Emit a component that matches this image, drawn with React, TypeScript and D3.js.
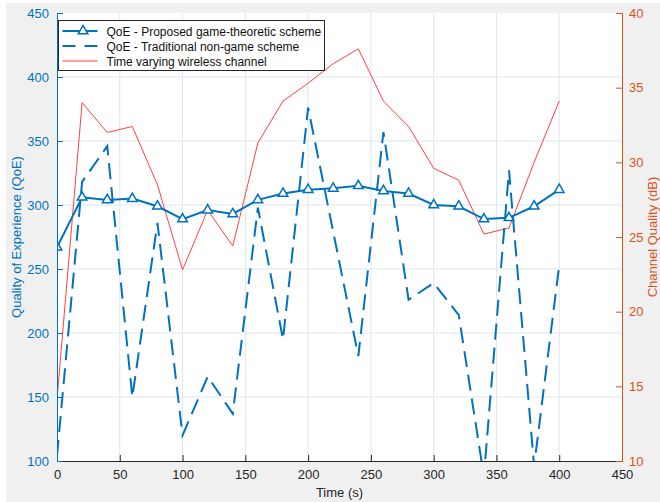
import { useEffect, useRef } from 'react'
import * as d3 from 'd3'

const times = [0, 20, 40, 60, 80, 100, 120, 140, 160, 180, 200, 220, 240, 260, 280, 300, 320, 340, 360, 380, 400]
const qoeProposed = [267, 306, 304, 305, 299, 289, 296, 293, 304, 309, 312, 313, 315, 311, 309, 300, 299, 289, 290, 299, 312]
const qoeTraditional = [104, 318, 346, 150, 286, 120, 166, 137, 298, 195, 376, 279, 182, 357, 226, 239, 214, 88, 327, 96, 253]
const channelDb = [14.1, 34.0, 32.0, 32.4, 28.5, 22.8, 26.8, 24.4, 31.3, 34.1, 35.3, 36.6, 37.6, 34.1, 32.4, 29.6, 28.8, 25.2, 25.6, 30.0, 34.1]

const xTicks = [0, 50, 100, 150, 200, 250, 300, 350, 400, 450]
const leftTicks = [100, 150, 200, 250, 300, 350, 400, 450]
const rightTicks = [10, 15, 20, 25, 30, 35, 40]
const legendLabels = [
  'QoE - Proposed game-theoretic scheme',
  'QoE - Traditional non-game scheme',
  'Time varying wireless channel',
]

const W = 660
const H = 502
const BLUE = '#0072BD'
const ORANGE = '#D95319'
const RED = '#ff4040'
const FONT = '"Liberation Sans", Arial, Helvetica, sans-serif'

export default function App() {
  const svgRef = useRef<SVGSVGElement>(null)

  useEffect(() => {
    if (!svgRef.current) return
    const svg = d3.select(svgRef.current)
    svg.selectAll('*').remove()

    const margin = { top: 13, right: 38, bottom: 41, left: 57 }
    const innerW = W - margin.left - margin.right
    const innerH = H - margin.top - margin.bottom

    // figure background
    svg.append('rect').attr('x', 6).attr('y', 3).attr('width', W - 6).attr('height', H - 3).attr('fill', '#f0f0f0')

    const g = svg.append('g').attr('transform', `translate(${margin.left},${margin.top})`)
    g.append('rect').attr('width', innerW).attr('height', innerH).attr('fill', '#fff')

    const x = d3.scaleLinear().domain([0, 450]).range([0, innerW])
    const yL = d3.scaleLinear().domain([100, 450]).range([innerH, 0])
    const yR = d3.scaleLinear().domain([10, 40]).range([innerH, 0])

    // grid
    g.append('g').selectAll('line').data(xTicks.slice(1, -1)).join('line')
      .attr('x1', d => x(d)).attr('x2', d => x(d)).attr('y1', 0).attr('y2', innerH)
      .attr('stroke', '#dfe6ee').attr('stroke-width', 1)
    g.append('g').selectAll('line').data(leftTicks.slice(1, -1)).join('line')
      .attr('x1', 0).attr('x2', innerW).attr('y1', d => yL(d)).attr('y2', d => yL(d))
      .attr('stroke', '#dfe6ee').attr('stroke-width', 1)

    const clipId = 'plot-clip'
    g.append('clipPath').attr('id', clipId).append('rect').attr('width', innerW).attr('height', innerH)
    const plot = g.append('g').attr('clip-path', `url(#${clipId})`)

    const lineL = d3.line<number>().x((_, i) => x(times[i])).y(d => yL(d))
    const lineR = d3.line<number>().x((_, i) => x(times[i])).y(d => yR(d))

    plot.append('path').datum(channelDb).attr('d', lineR)
      .attr('fill', 'none').attr('stroke', RED).attr('stroke-width', 1)

    plot.append('path').datum(qoeTraditional).attr('d', lineL)
      .attr('fill', 'none').attr('stroke', BLUE).attr('stroke-width', 2)
      .attr('stroke-dasharray', '16,8')

    plot.append('path').datum(qoeProposed).attr('d', lineL)
      .attr('fill', 'none').attr('stroke', BLUE).attr('stroke-width', 2)

    const tri = d3.symbol().type(d3.symbolTriangle).size(40)
    plot.selectAll('.marker').data(qoeProposed).join('path')
      .attr('class', 'marker')
      .attr('d', tri)
      .attr('transform', (d, i) => `translate(${x(times[i])},${yL(d)})`)
      .attr('fill', '#fff').attr('stroke', BLUE).attr('stroke-width', 1.5)

    // x axis
    const xAxis = g.append('g').attr('transform', `translate(0,${innerH})`)
      .call(d3.axisBottom(x).tickValues(xTicks).tickSize(-6).tickPadding(9))
    xAxis.select('.domain').attr('stroke', '#262626')
    xAxis.selectAll('.tick line').attr('stroke', '#262626')
    xAxis.selectAll('text').attr('fill', '#262626').attr('font-size', 13).attr('font-family', FONT)

    // left axis
    const left = g.append('g')
      .call(d3.axisLeft(yL).tickValues(leftTicks).tickSize(-6).tickPadding(8))
    left.select('.domain').attr('stroke', BLUE)
    left.selectAll('.tick line').attr('stroke', BLUE)
    left.selectAll('text').attr('fill', BLUE).attr('font-size', 13).attr('font-family', FONT)

    // right axis
    const right = g.append('g').attr('transform', `translate(${innerW},0)`)
      .call(d3.axisRight(yR).tickValues(rightTicks).tickSize(-6).tickPadding(7))
    right.select('.domain').attr('stroke', ORANGE)
    right.selectAll('.tick line').attr('stroke', ORANGE)
    right.selectAll('text').attr('fill', ORANGE).attr('font-size', 13).attr('font-family', FONT)

    // axis titles
    svg.append('text').attr('x', margin.left + innerW / 2).attr('y', 497)
      .attr('text-anchor', 'middle').attr('font-size', 13).attr('font-family', FONT)
      .attr('fill', '#262626').text('Time (s)')
    svg.append('text')
      .attr('transform', `translate(21,${margin.top + innerH / 2}) rotate(-90)`)
      .attr('text-anchor', 'middle').attr('font-size', 13).attr('font-family', FONT)
      .attr('fill', BLUE).text('Quality of Experience (QoE)')
    svg.append('text')
      .attr('transform', `translate(656.5,${margin.top + innerH / 2}) rotate(-90)`)
      .attr('text-anchor', 'middle').attr('font-size', 13).attr('font-family', FONT)
      .attr('fill', ORANGE).text('Channel Quality (dB)')

    // legend
    const legend = svg.append('g').attr('transform', 'translate(58.5,20.5)')
    legend.append('rect').attr('width', 266).attr('height', 50)
      .attr('fill', '#fff').attr('stroke', '#262626').attr('stroke-width', 1)
    legendLabels.forEach((label, i) => {
      const ly = 10.5 + i * 15
      const sample = legend.append('line').attr('x1', 4).attr('x2', 39).attr('y1', ly).attr('y2', ly)
        .attr('fill', 'none')
      if (i === 0) {
        sample.attr('stroke', BLUE).attr('stroke-width', 2)
        legend.append('path').attr('d', tri).attr('transform', `translate(24.5,${ly})`)
          .attr('fill', '#fff').attr('stroke', BLUE).attr('stroke-width', 1.5)
      } else if (i === 1) {
        sample.attr('stroke', BLUE).attr('stroke-width', 2).attr('stroke-dasharray', '13,9')
      } else {
        sample.attr('stroke', RED).attr('stroke-width', 1)
      }
      legend.append('text').attr('x', 48).attr('y', ly + 4.5)
        .attr('font-size', 12).attr('font-family', FONT).attr('fill', '#111')
        .text(label)
    })
  }, [])

  return (
    <div style={{ position: 'absolute', left: 0, top: 0 }}>
      <svg ref={svgRef} width={W} height={H} style={{ display: 'block', background: '#fff' }} />
    </div>
  )
}
